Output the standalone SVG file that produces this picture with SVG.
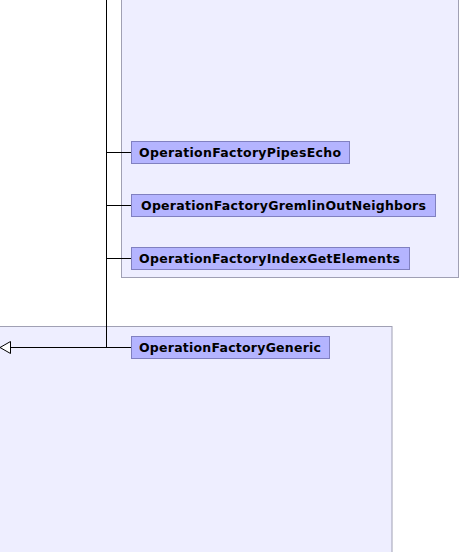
<svg xmlns="http://www.w3.org/2000/svg" width="462" height="552" viewBox="0 0 462 552">
<style>
.cluster{fill:#eeeeff;stroke:#a0a0b4;stroke-width:1}
.node rect{fill:#b4b4ff;stroke:#8080c0;stroke-width:1}
.node text{font-family:"DejaVu Sans",sans-serif;font-weight:bold;font-size:12.5px;fill:#000}
.edge{stroke:#000;stroke-width:1;fill:none}
</style>
<rect class="cluster" x="121.5" y="-10" width="337" height="287.5"/>
<rect class="cluster" x="-10" y="326.5" width="402" height="240"/>
<g id="connectors">
<path class="edge" d="M106.5,0 V347.5"/>
<path class="edge" d="M106.5,152.5 H131"/>
<path class="edge" d="M106.5,205.5 H131"/>
<path class="edge" d="M106.5,258.5 H131"/>
<path class="edge" d="M131,347.5 H10"/>
<polygon points="0,347.5 10.5,341.5 10.5,353.5" fill="#fff" stroke="#000" stroke-width="1"/>
</g>
<g id="PipesEcho" class="node"><rect x="131.5" y="141.5" width="218" height="22"/><text x="139" y="157" textLength="202" lengthAdjust="spacing">OperationFactoryPipesEcho</text></g>
<g id="GremlinOutNeighbors" class="node"><rect x="131.5" y="194.5" width="304" height="22"/><text x="141" y="210" textLength="285" lengthAdjust="spacing">OperationFactoryGremlinOutNeighbors</text></g>
<g id="IndexGetElements" class="node"><rect x="131.5" y="247.5" width="278" height="22"/><text x="139" y="263" textLength="261" lengthAdjust="spacing">OperationFactoryIndexGetElements</text></g>
<g id="Generic" class="node"><rect x="131.5" y="336.5" width="198" height="22"/><text x="139" y="352" textLength="182" lengthAdjust="spacing">OperationFactoryGeneric</text></g>
</svg>
